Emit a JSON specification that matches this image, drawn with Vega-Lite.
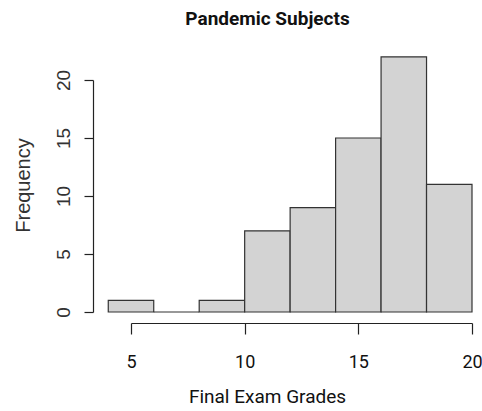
{
  "$schema": "https://vega.github.io/schema/vega-lite/v6.json",
  "width": 341,
  "height": 232,
  "autosize": {"type": "none"},
  "padding": {"left": 131, "top": 80, "right": 10, "bottom": 99},
  "background": "white",
  "title": {
    "text": "Pandemic Subjects",
    "font": "Roboto, sans-serif",
    "fontSize": 19,
    "fontWeight": "bold",
    "color": "#111",
    "anchor": "middle",
    "dx": -34,
    "offset": 27
  },
  "data": {
    "values": [
      {"bin_start": 4, "bin_end": 6, "count": 1},
      {"bin_start": 6, "bin_end": 8, "count": 0},
      {"bin_start": 8, "bin_end": 10, "count": 1},
      {"bin_start": 10, "bin_end": 12, "count": 7},
      {"bin_start": 12, "bin_end": 14, "count": 9},
      {"bin_start": 14, "bin_end": 16, "count": 15},
      {"bin_start": 16, "bin_end": 18, "count": 22},
      {"bin_start": 18, "bin_end": 20, "count": 11}
    ]
  },
  "mark": {"type": "rect", "fill": "#d3d3d3", "stroke": "#333", "strokeWidth": 1.2, "clip": false},
  "encoding": {
    "x": {
      "field": "bin_start",
      "type": "quantitative",
      "scale": {"domain": [5, 20], "nice": false, "zero": false},
      "axis": {
        "values": [5, 10, 15, 20],
        "grid": false,
        "offset": 11,
        "tickSize": 11,
        "domainColor": "#222",
        "tickColor": "#222",
        "domainWidth": 1.2,
        "tickWidth": 1.2,
        "labelFont": "Roboto, sans-serif",
        "labelFontSize": 18,
        "labelColor": "#111",
        "labelPadding": 19,
        "labelFlush": false,
        "title": "Final Exam Grades",
        "titleFont": "Roboto, sans-serif",
        "titleFontSize": 19,
        "titleFontWeight": "normal",
        "titleColor": "#111",
        "titleX": 136,
        "titlePadding": 16
      }
    },
    "x2": {"field": "bin_end"},
    "y": {
      "field": "count",
      "type": "quantitative",
      "scale": {"domain": [0, 20], "nice": false},
      "axis": {
        "values": [0, 5, 10, 15, 20],
        "grid": false,
        "offset": 38,
        "tickSize": 9,
        "domainColor": "#222",
        "tickColor": "#222",
        "domainWidth": 1.2,
        "tickWidth": 1.2,
        "labelFont": "Liberation Sans, Arial, sans-serif",
        "labelFontSize": 19,
        "labelColor": "#333",
        "labelAngle": -90,
        "labelAlign": "center",
        "labelBaseline": "bottom",
        "labelPadding": 11,
        "labelFlush": false,
        "title": "Frequency",
        "titleFont": "Liberation Sans, Arial, sans-serif",
        "titleFontSize": 20,
        "titleFontWeight": "normal",
        "titleColor": "#333",
        "titleX": -70,
        "titleY": 105,
        "titleAngle": -90,
        "titleAlign": "center",
        "titleBaseline": "middle"
      }
    },
    "y2": {"datum": 0}
  },
  "config": {"view": {"stroke": null}}
}
